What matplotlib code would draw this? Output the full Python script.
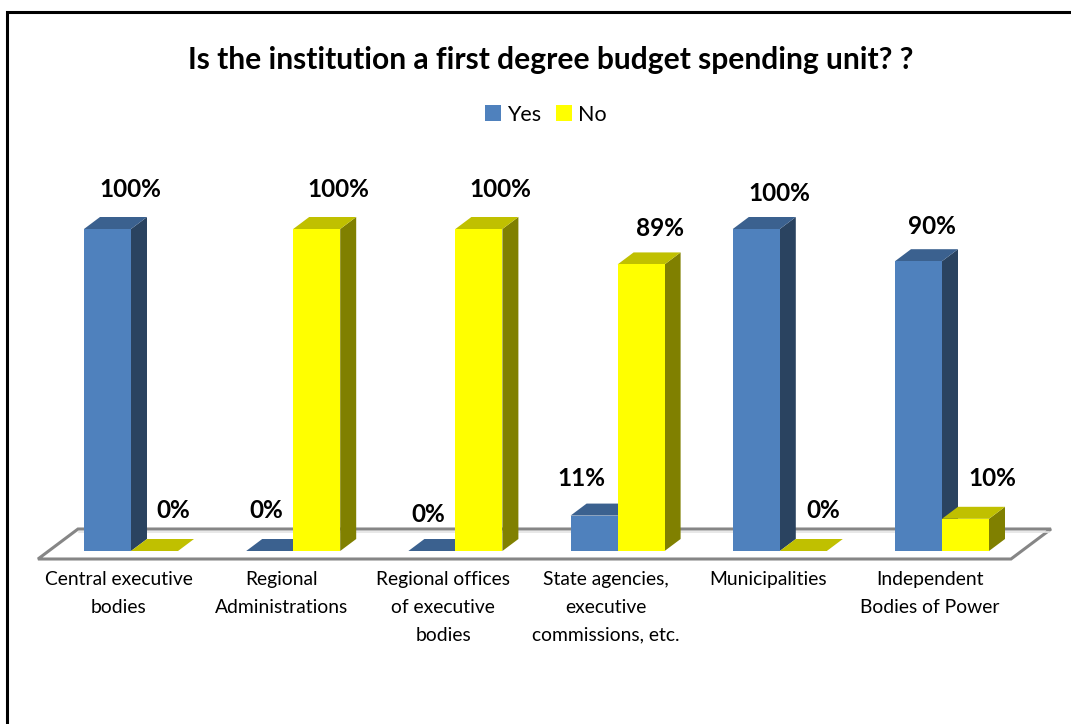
import matplotlib
matplotlib.use('Agg')
import matplotlib.pyplot as plt
from matplotlib.patches import Polygon, Rectangle

categories = ['Central executive\nbodies', 'Regional\nAdministrations',
              'Regional offices\nof executive\nbodies', 'State agencies,\nexecutive\ncommissions, etc.',
              'Municipalities', 'Independent\nBodies of Power']
yes_values = [100, 0, 0, 11, 100, 90]
no_values = [0, 100, 100, 89, 0, 10]
series_names = ['Yes', 'No']

# label centres in pixels, the labels were moved by hand in the original
yes_label_px = [(130, 189), (266, 510), (428, 515), (581, 478), (779, 193), (932, 226)]
no_label_px = [(173, 510), (338, 189), (500, 189), (660, 228), (823, 511), (992, 478)]

W, H = 1071, 724
X0, PITCH = 131, 162.2      # pixel x of first group centre, group spacing
Y0, Y100 = 551, 229         # pixel y of 0% and 100%
BAR = 47 / PITCH
DX = 16 / PITCH
DY = 12 / ((Y0 - Y100) / 100)

yes_colors = ('#4F81BD', '#3B618F', '#2A4360')
no_colors = ('#FFFF00', '#C0C000', '#808000')

plt.rcParams['font.family'] = ['Lato', 'DejaVu Sans']

fig = plt.figure(figsize=(W / 100, H / 100), dpi=100)
ax = fig.add_axes([0, 0, 1, 1])
ax.set_xlim(-X0 / PITCH, (W - X0) / PITCH)
ax.set_ylim((Y0 - H) / ((Y0 - Y100) / 100), Y0 / ((Y0 - Y100) / 100))
ax.axis('off')


def px(x, y):
    return (x - X0) / PITCH, (Y0 - y) / ((Y0 - Y100) / 100)


# frame is cut off by the image on the right and at the bottom
ax.plot(*zip(px(7, H), px(7, 12), px(W, 12)), color='black', lw=2.2,
        solid_joinstyle='miter', zorder=1)

# floor
floor = Polygon([px(38, 559), px(78, 529), px(1051, 529), px(1011, 559)], closed=True,
                facecolor='white', edgecolor='#868686', lw=2.2, zorder=2)
ax.add_patch(floor)
ax.plot(*zip(px(79, 531.5), px(1049, 531.5)), color='#E4E4E4', lw=1.2, zorder=2)


def bar3d(x, v, colors, z):
    ax.bar(x, v, width=BAR, align='edge', color=colors[0], linewidth=0, zorder=z + 0.2)
    top = Polygon([(x, v), (x + DX, v + DY), (x + BAR + DX, v + DY), (x + BAR, v)],
                  closed=True, facecolor=colors[1], edgecolor='none', zorder=z + 0.1)
    side = Polygon([(x + BAR, 0), (x + BAR + DX, DY), (x + BAR + DX, v + DY), (x + BAR, v)],
                   closed=True, facecolor=colors[2], edgecolor='none', zorder=z)
    ax.add_patch(top)
    if v > 0:
        ax.add_patch(side)


for i in range(len(categories)):
    bar3d(i - BAR, yes_values[i], yes_colors, 3)
    bar3d(i, no_values[i], no_colors, 4)

label_style = dict(ha='center', va='center', fontsize=17.5, fontweight='bold', color='black', zorder=6)
for (x, y), v in zip(yes_label_px, yes_values):
    ax.text(*px(x, y), f'{v}%', **label_style)
for (x, y), v in zip(no_label_px, no_values):
    ax.text(*px(x, y), f'{v}%', **label_style)

# category labels sit a bit left of the group centre
for i, name in enumerate(categories):
    ax.text(i - 12 / PITCH, px(0, 571)[1], name, ha='center', va='top', fontsize=13.85,
            color='black', linespacing=1.78, zorder=6)

ax.text(*px(550.5, 60), 'Is the institution a first degree budget spending unit? ?', ha='center',
        va='center', fontsize=21.6, fontweight='bold', color='black')

# legend
for name, color, kx, tx in zip(series_names, (yes_colors[0], no_colors[0]), (485, 556), (507, 578)):
    x0, y0 = px(kx, 121)
    x1, y1 = px(kx + 16, 105)
    ax.add_patch(Rectangle((x0, y0), x1 - x0, y1 - y0, facecolor=color, edgecolor='none'))
    ax.text(*px(tx, 115), name, ha='left', va='center', fontsize=15.5, color='black')

fig.savefig('out.png', dpi=100)
